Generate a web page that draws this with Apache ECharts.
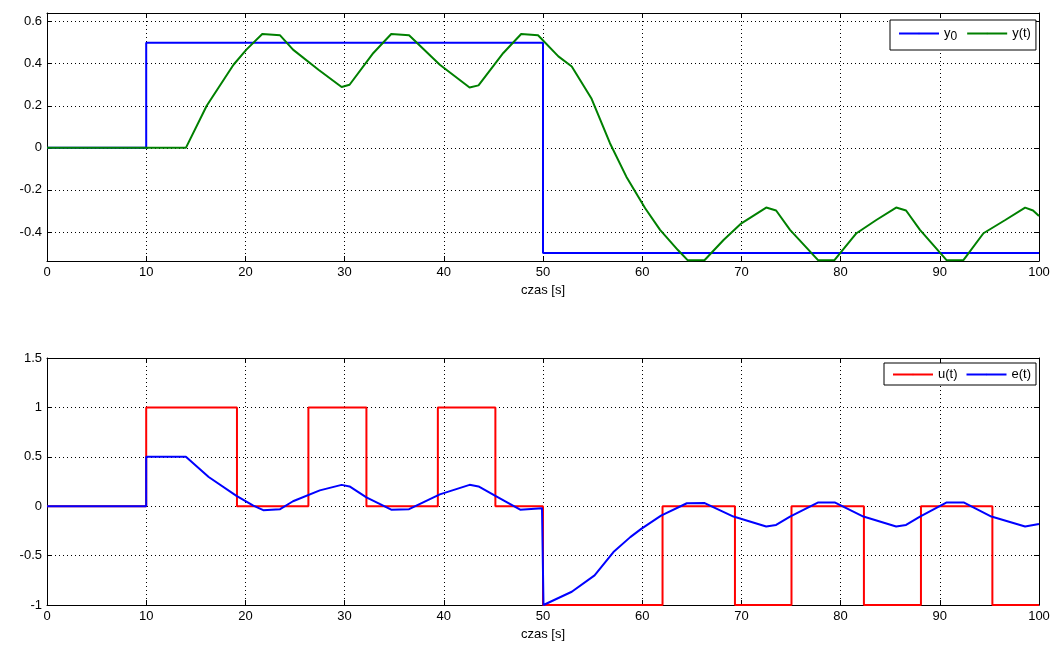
<!DOCTYPE html>
<html>
<head>
<meta charset="utf-8">
<script src="https://cdn.jsdelivr.net/npm/echarts@6/dist/echarts.min.js"></script>
<style>
html,body{margin:0;padding:0;background:#fff;}
#c{width:1058px;height:654px;}
</style>
</head>
<body>
<div id="c"></div>
<script>
// ---------- data ----------
var xTicks = [0,10,20,30,40,50,60,70,80,90,100];
var xLabel = 'czas [s]';

// top plot
var y0_t = [0, 10, 10, 50, 50, 100];
var y0_v = [0, 0, 0.5, 0.5, -0.5, -0.5];

var yt_t = [0, 14, 16.1, 18.8, 20.1, 21.7, 23.5, 24.8, 27.4, 29.7, 30.5, 32.9, 34.7, 36.5, 39.6, 42.6, 43.5, 46.0, 47.8, 49.5,
            51.55, 52.9, 54.9, 56.75, 58.4, 60.3, 61.8, 63.6, 64.6, 66.3, 68.2, 70.0, 72.5, 73.5, 74.9, 77.75, 79.4,
            81.6, 83.6, 85.6, 86.6, 88.0, 90.7, 92.4, 94.4, 96.6, 98.6, 99.4, 100];
var yt_v = [0, 0, 0.2, 0.395, 0.467, 0.541, 0.535, 0.467, 0.37, 0.289, 0.30, 0.451, 0.541, 0.535, 0.395, 0.287, 0.297, 0.451, 0.541, 0.535,
            0.435, 0.387, 0.233, 0.022, -0.137, -0.287, -0.39, -0.486, -0.535, -0.533, -0.438, -0.359, -0.284, -0.298, -0.39, -0.535, -0.533,
            -0.406, -0.343, -0.284, -0.298, -0.39, -0.535, -0.533, -0.406, -0.343, -0.284, -0.298, -0.324];

// bottom plot
var u_t = [0, 10, 10, 19.15, 19.15, 26.35, 26.35, 32.2, 32.2, 39.4, 39.4, 45.2, 45.2, 50, 50, 62.05, 62.05, 69.35, 69.35,
           75.05, 75.05, 82.35, 82.35, 88.1, 88.1, 95.3, 95.3, 100];
var u_v = [0, 0, 1, 1, 0, 0, 1, 1, 0, 0, 1, 1, 0, 0, -1, -1, 0, 0, -1, -1, 0, 0, -1, -1, 0, 0, -1, -1];

var e_t = [0, 10, 10, 14, 16.3, 19.1, 20.8, 21.8, 23.5, 24.8, 27.5, 29.7, 30.5, 32.2, 34.7, 36.5, 39.6, 42.6, 43.5, 45.2, 47.7,
           49.9, 50, 50.05, 52.9, 55.2, 57.1, 58.8, 59.9, 61.9, 64.5, 66.3, 69.2, 72.5, 73.5, 74.9, 77.75, 79.4, 82.3, 85.6,
           86.6, 88.0, 90.7, 92.4, 95.2, 98.6, 100];
var e_v = [0, 0, 0.5, 0.5, 0.296, 0.105, 0.005, -0.04, -0.03, 0.05, 0.16, 0.216, 0.2, 0.09, -0.035, -0.03, 0.12, 0.216, 0.2, 0.105, -0.035,
           -0.02, -0.02, -1.0, -0.866, -0.70, -0.464, -0.313, -0.23, -0.095, 0.03, 0.032, -0.105, -0.206, -0.19, -0.105, 0.038, 0.038, -0.105, -0.206,
           -0.19, -0.105, 0.038, 0.038, -0.105, -0.206, -0.18];

var topY = {min: -0.538, max: 0.641, ticks: [-0.4, -0.2, 0, 0.2, 0.4, 0.6]};
var botY = {min: -1, max: 1.5, interval: 0.5};

// ---------- helpers ----------
function pairs(t, v) { return t.map(function (x, i) { return [x, v[i]]; }); }
var FONT = 'Liberation Sans, Arial, sans-serif';
var txt = {color: '#000', fontSize: 13, fontFamily: FONT};
var gridLine = {show: true, lineStyle: {color: '#000', width: 1, type: [1, 3]}};
var boxLine = {show: true, onZero: false, lineStyle: {color: '#000', width: 1}};
var tick = {show: true, inside: true, length: 5, lineStyle: {color: '#000', width: 1}};

function xMain(grid) {
  return {type: 'value', gridIndex: grid, min: 0, max: 100, interval: 10, position: 'bottom',
    axisLine: boxLine, axisTick: tick, splitLine: gridLine,
    axisLabel: Object.assign({margin: 5}, txt),
    name: xLabel, nameLocation: 'middle', nameGap: 23, nameTextStyle: txt};
}
function xTop(grid) {
  return {type: 'value', gridIndex: grid, min: 0, max: 100, interval: 10, position: 'top',
    axisLine: boxLine, axisTick: tick, splitLine: {show: false}, axisLabel: {show: false}};
}
function fmtTop(v) {
  var r = Math.round(v * 10) / 10;
  if (Math.abs(r - v) > 1e-6 || Math.round(r * 10) % 2 !== 0) return '';
  return r === 0 ? '0' : String(r);
}

var option = {
  animation: false,
  backgroundColor: '#fff',
  grid: [
    {left: 47, top: 13, width: 992, height: 248},
    {left: 47, top: 358, width: 992, height: 247}
  ],
  xAxis: [xMain(0), xTop(0), xMain(1), xTop(1)],
  yAxis: [
    {type: 'value', gridIndex: 0, min: topY.min, max: topY.max, splitNumber: 5, position: 'left',
      axisLine: boxLine, axisTick: tick, splitLine: gridLine,
      axisLabel: Object.assign({margin: 5, formatter: fmtTop, showMinLabel: true, showMaxLabel: true}, txt)},
    {type: 'value', gridIndex: 0, min: topY.min, max: topY.max, splitNumber: 5, position: 'right',
      axisLine: boxLine, axisTick: tick, splitLine: {show: false}, axisLabel: {show: false}},
    {type: 'value', gridIndex: 1, min: botY.min, max: botY.max, interval: botY.interval, position: 'left',
      axisLine: boxLine, axisTick: tick, splitLine: gridLine,
      axisLabel: Object.assign({margin: 5}, txt)},
    {type: 'value', gridIndex: 1, min: botY.min, max: botY.max, interval: botY.interval, position: 'right',
      axisLine: boxLine, axisTick: tick, splitLine: {show: false}, axisLabel: {show: false}}
  ],
  legend: [
    {data: ['y0', 'y(t)'], left: 890, top: 20, orient: 'horizontal',
      itemWidth: 40, itemHeight: 2, itemGap: 9, padding: [7, 5, 7, 8],
      borderColor: '#000', borderWidth: 1, backgroundColor: '#fff', borderRadius: 0,
      formatter: function (n) { return n === 'y0' ? '{m|y}{s|0}' : '{m|' + n + '}'; },
      textStyle: {color: '#000', fontSize: 13, fontFamily: FONT,
        rich: {m: {fontSize: 13, fontFamily: FONT, color: '#000'},
               s: {fontSize: 12, fontFamily: FONT, color: '#000', padding: [7, 0, 0, 0]}}}},
    {data: ['u(t)', 'e(t)'], left: 884, top: 363, orient: 'horizontal',
      itemWidth: 40, itemHeight: 2, itemGap: 8, padding: [5, 5, 4, 8],
      borderColor: '#000', borderWidth: 1, backgroundColor: '#fff', borderRadius: 0,
      textStyle: {color: '#000', fontSize: 13, fontFamily: FONT}}
  ],
  series: [
    {name: 'y0', type: 'line', xAxisIndex: 0, yAxisIndex: 0, data: pairs(y0_t, y0_v),
      symbol: 'none', lineStyle: {color: '#0000ff', width: 2}, itemStyle: {color: '#0000ff'}},
    {name: 'y(t)', type: 'line', xAxisIndex: 0, yAxisIndex: 0, data: pairs(yt_t, yt_v),
      symbol: 'none', lineStyle: {color: '#008000', width: 2}, itemStyle: {color: '#008000'}},
    {name: 'u(t)', type: 'line', xAxisIndex: 2, yAxisIndex: 2, data: pairs(u_t, u_v),
      symbol: 'none', lineStyle: {color: '#ff0000', width: 2}, itemStyle: {color: '#ff0000'}},
    {name: 'e(t)', type: 'line', xAxisIndex: 2, yAxisIndex: 2, data: pairs(e_t, e_v),
      symbol: 'none', lineStyle: {color: '#0000ff', width: 2}, itemStyle: {color: '#0000ff'}}
  ]
};
var chart = echarts.init(document.getElementById('c'), null, {renderer: 'canvas'});
chart.setOption(option);
</script>
</body>
</html>
